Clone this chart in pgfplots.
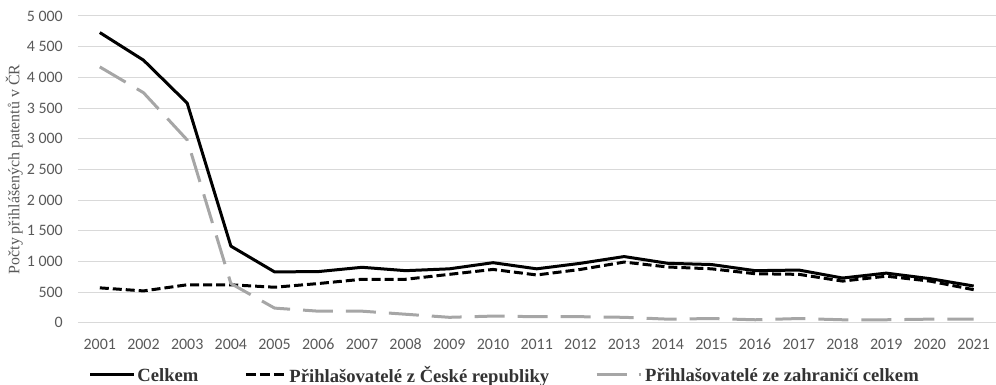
\documentclass[border=0pt]{standalone}
\usepackage{pgfplots}
\pgfplotsset{compat=1.18}
\usepackage{fontspec}
\setmainfont{Liberation Serif}
\newfontfamily\carlito{Carlito}
\definecolor{tickgray}{HTML}{595959}
\definecolor{gridgray}{HTML}{D9D9D9}
\definecolor{lgray}{HTML}{A6A6A6}
\begin{document}
\begin{tikzpicture}
\begin{axis}[
  scale only axis,
  width=918bp, height=307bp,
  xmin=2000.5, xmax=2021.5,
  ymin=0, ymax=5000,
  xtick={2001,...,2021},
  ytick={0,500,...,5000},
  axis line style={draw=none},
  major tick length=0pt,
  ymajorgrids,
  grid style={color=gridgray, line width=1bp},
  /pgf/number format/assume math mode=true,
  ticklabel style={font=\carlito\fontsize{16}{18}\selectfont, text=tickgray},
  x tick label style={/pgf/number format/1000 sep={}, anchor=north, text height=10bp, text depth=0pt, inner sep=0pt, yshift=-16bp},
  y tick label style={/pgf/number format/1000 sep={\hspace{0.22em}}, anchor=east, inner sep=0pt, xshift=-15bp},
  ylabel={Počty přihlášených patentů v ČR},
  ylabel style={font=\fontsize{16}{18}\selectfont, text=tickgray, at={(axis description cs:-0.0598,0.5)}, anchor=south, inner sep=0pt},
  legend columns=3,
  legend style={at={(axis description cs:0.465,-0.2020)}, anchor=south, draw=none,
    font=\bfseries\fontsize{18.7}{20}\selectfont, text=black!80,
    nodes={text depth=0pt},
    /tikz/every even column/.append style={column sep=44bp},
    inner sep=0pt},
  line join=round,
]
\addplot[black, line width=3bp, legend image code/.code={\draw[black, line width=3bp] (0bp,0bp) -- (44bp,0bp);}] coordinates {
(2001,4730) (2002,4280) (2003,3580) (2004,1250) (2005,830) (2006,835) (2007,905) (2008,850) (2009,880) (2010,980) (2011,880) (2012,970) (2013,1080) (2014,970) (2015,950) (2016,850) (2017,860) (2018,730) (2019,810) (2020,720) (2021,600)};
\addlegendentry{Celkem}
\addplot[black, line width=3bp, dash pattern=on 9bp off 4bp, legend image code/.code={\draw[black, line width=3bp, dash pattern=on 10bp off 4bp] (0bp,0bp) -- (40bp,0bp);}] coordinates {
(2001,570) (2002,520) (2003,620) (2004,620) (2005,580) (2006,640) (2007,710) (2008,710) (2009,790) (2010,870) (2011,780) (2012,870) (2013,990) (2014,910) (2015,880) (2016,800) (2017,790) (2018,680) (2019,760) (2020,680) (2021,540)};
\addlegendentry{Přihlašovatelé z České republiky}
\addplot[lgray, line width=3bp, dash pattern=on 30bp off 13bp, legend image code/.code={\draw[lgray, line width=3bp, dash pattern=on 30bp off 12bp on 2bp off 30bp] (0bp,0bp) -- (45bp,0bp);}] coordinates {
(2001,4170) (2002,3750) (2003,2980) (2004,640) (2005,240) (2006,190) (2007,190) (2008,140) (2009,90) (2010,110) (2011,100) (2012,100) (2013,90) (2014,60) (2015,70) (2016,50) (2017,70) (2018,50) (2019,50) (2020,60) (2021,60)};
\addlegendentry{Přihlašovatelé ze zahraničí celkem}
\end{axis}
\path ([yshift=16bp]current axis.north);
\path ([xshift=-78bp]current axis.south west);
\end{tikzpicture}
\end{document}
